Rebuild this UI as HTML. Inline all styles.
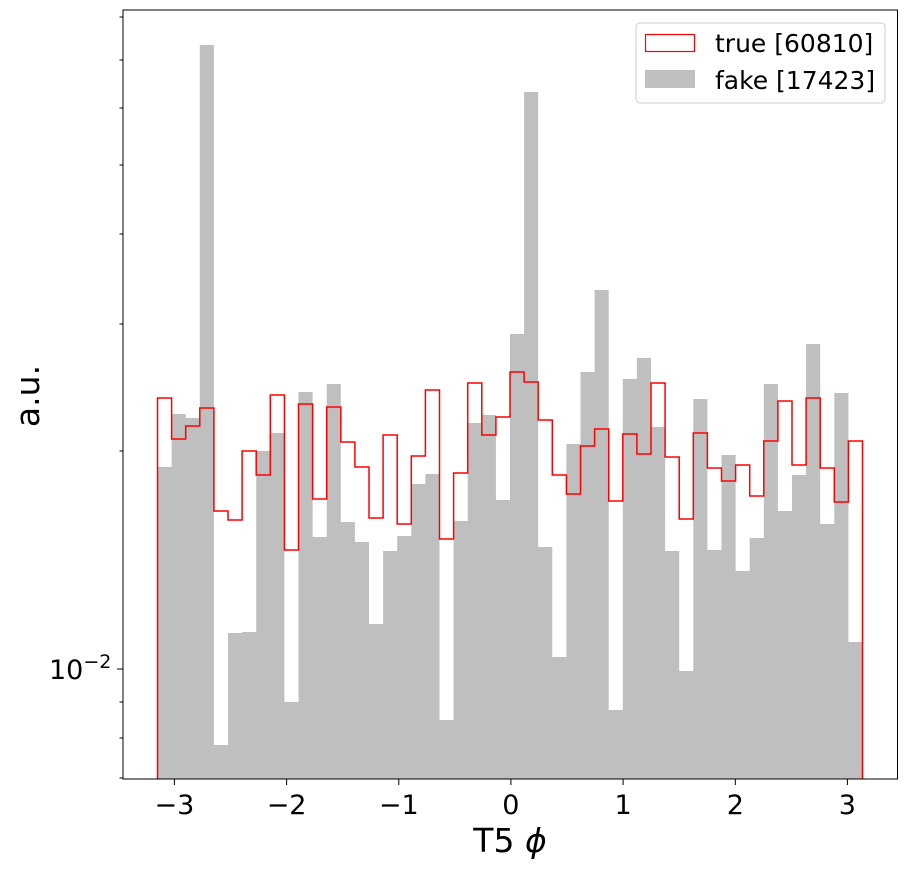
<!DOCTYPE html>
<html><head><meta charset="utf-8"><style>html,body{margin:0;padding:0;background:#fff}</style></head>
<body>
<svg width="907" height="870" viewBox="0 0 907 870" xmlns="http://www.w3.org/2000/svg" font-family="DejaVu Sans, Liberation Sans, sans-serif">
<rect width="907" height="870" fill="#fff"/>
<path fill="#bfbfbf" d="M157.5,779 V467 H171.6 V414 H185.7 V418 H199.8 V45 H213.9 V745 H228 V633 H242.1 V632 H256.2 V451 H270.3 V433 H284.4 V702 H298.5 V392 H312.6 V537 H326.7 V384 H340.8 V522 H354.9 V542 H369 V624 H383.1 V551 H397.2 V536 H411.3 V484 H425.4 V474 H439.5 V720 H453.6 V521 H467.7 V423 H481.8 V415 H495.9 V500 H510 V334 H524.1 V92 H538.2 V547 H552.3 V657 H566.4 V444 H580.5 V372 H594.6 V290 H608.7 V710 H622.8 V379 H636.9 V358 H651 V427 H665.1 V551 H679.2 V671 H693.3 V399 H707.4 V550 H721.5 V455 H735.6 V571 H749.7 V538 H763.8 V384 H777.9 V511 H792 V475 H806.1 V344 H820.2 V524 H834.3 V393 H848.4 V642 H862.5 V779 Z"/>
<path fill="none" stroke="#ff0000" stroke-width="1.5" d="M157.5,779 V398 H171.6 V439 H185.7 V426 H199.8 V408 H213.9 V511 H228 V520 H242.1 V451 H256.2 V475 H270.3 V395 H284.4 V550 H298.5 V404 H312.6 V499 H326.7 V407 H340.8 V442 H354.9 V467 H369 V518 H383.1 V435 H397.2 V524 H411.3 V456 H425.4 V390 H439.5 V539 H453.6 V473 H467.7 V383 H481.8 V435 H495.9 V417 H510 V372 H524.1 V382 H538.2 V420 H552.3 V475 H566.4 V494 H580.5 V446 H594.6 V429 H608.7 V501 H622.8 V434 H636.9 V454 H651 V383 H665.1 V457 H679.2 V519 H693.3 V433 H707.4 V468 H721.5 V481 H735.6 V465 H749.7 V496 H763.8 V441 H777.9 V401 H792 V465 H806.1 V398 H820.2 V468 H834.3 V502 H848.4 V441 H862.5 V779"/>
<rect x="123" y="10" width="774.5" height="769" fill="none" stroke="#000" stroke-width="1"/>
<g stroke="#000" stroke-width="1">
<line x1="174.4" y1="779" x2="174.4" y2="785"/><line x1="286.6" y1="779" x2="286.6" y2="785"/><line x1="398.8" y1="779" x2="398.8" y2="785"/><line x1="510.9" y1="779" x2="510.9" y2="785"/><line x1="623.1" y1="779" x2="623.1" y2="785"/><line x1="735.3" y1="779" x2="735.3" y2="785"/><line x1="847.4" y1="779" x2="847.4" y2="785"/>
<line x1="117" y1="669" x2="123" y2="669"/>
<line x1="119.5" y1="17" x2="123" y2="17"/><line x1="119.5" y1="60" x2="123" y2="60"/><line x1="119.5" y1="108" x2="123" y2="108"/><line x1="119.5" y1="165" x2="123" y2="165"/><line x1="119.5" y1="234" x2="123" y2="234"/><line x1="119.5" y1="324" x2="123" y2="324"/><line x1="119.5" y1="451" x2="123" y2="451"/><line x1="119.5" y1="702" x2="123" y2="702"/><line x1="119.5" y1="738" x2="123" y2="738"/><line x1="119.5" y1="778" x2="123" y2="778"/>
</g>
<g font-size="27" text-anchor="middle" fill="#000">
<text x="174.4" y="814">−3</text><text x="286.6" y="814">−2</text><text x="398.8" y="814">−1</text><text x="510.9" y="814">0</text><text x="623.1" y="814">1</text><text x="735.3" y="814">2</text><text x="847.4" y="814">3</text>
</g>
<text x="49" y="679" font-size="27">10<tspan font-size="19" dy="-11">−2</tspan></text>
<text x="510" y="852" font-size="33" text-anchor="middle">T5 <tspan font-style="italic">ϕ</tspan></text>
<text transform="translate(39,396) rotate(-90)" font-size="33" text-anchor="middle">a.u.</text>
<rect x="636" y="23" width="249" height="80" rx="4" fill="#fff" fill-opacity="0.8" stroke="#cccccc"/>
<rect x="645.5" y="34.5" width="49" height="17" fill="none" stroke="#ff0000" stroke-width="1.2"/>
<rect x="645" y="70" width="50" height="18" fill="#bfbfbf"/>
<text x="715" y="52" font-size="25">true [60810]</text>
<text x="715" y="89" font-size="25">fake [17423]</text>
</svg>
</body></html>
